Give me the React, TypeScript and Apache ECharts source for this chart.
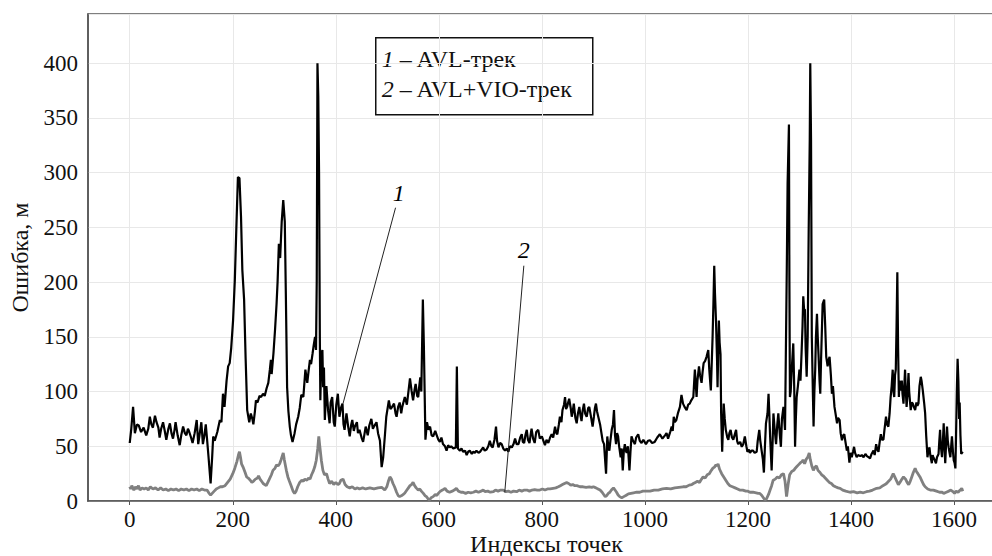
import React, { useEffect, useRef } from "react";
import * as echarts from "echarts";

// Series 1: AVL track error (index, value in metres)
const idx1 = [0,3,6.5,10,14,17.5,22,27,32,36,39,42,45,49,52,55.6,58,61,64.7,68,71,75,78,81,84,87,89,93,97,100,103.6,107,110,113,115,119,122,126,130,133,136,139,142,145,147.6,150,153,157,160,162,165,170,175,178,181,184,188,191,194,197,200.6,204,207,210,213,216,218.6,222,225,228,232,235,238,240,243,245,248,252,255,258.7,262,265.7,269,272,274,275.5,279,282,285,287,289.5,292,295,298,301,303,305.5,308,310.7,313,316,320,323,327,330,333,337,341,344.6,347,349.8,352,355,357,359.7,361.6,363,364.4,366,367.5,369,370,372,374,375.4,377,378.7,381.8,385,388,390,393,396,398,401,404,407,410,413,415,417,420.7,424,427,430,432,435,437,441,443,446,450,453,456,458,462,465,469,472,474,479,482,485.7,489,492,495,498,503,506,508,513,516,518,521,524,527,529,534,538,541,544,547,550,553,555,558,560,562,564,566,569,571,574,577,580,583,586,589,593,596,599,602,605,608,612,615,618,621,624,628,633,635,637,641,644,647,651,654,657,660,664,667,670,673,677,680,683,686,689,692.7,696,699,702,704.5,708,711,713,715.7,719,722,725,728.5,732,735,738,741.7,745,748,751,754.6,758,761,763,765.6,768,770.7,773,776,778,780,783,786,789,793,796,800,803,806,809,812.6,816,819,822,825.6,828,830,833,835,838,840,843,845,847,849,851,853,856,858,860,862,865,867.6,870,872.7,875,877,879,881.7,884,887,890,892,895,898.5,901,903,905,907,909.5,913,916,918,920.7,924.6,927,929,931,933,935.6,938,940,942,944,946,948,950,953,955,957,959,961,963,964.6,967,970,972,974,977,980.6,983,987,990,993.5,997,1002,1006,1009.7,1014,1019,1024,1029,1034,1039,1042,1045,1049,1052,1054,1056,1058,1061,1064,1068,1071,1074,1077,1081,1084,1087,1090,1094,1097,1100.3,1102,1105,1107,1110,1112,1114,1117,1119.8,1123,1125,1128,1131.4,1133,1134.6,1136,1138,1140,1141,1143.6,1145,1146.8,1148,1150,1153,1155,1157,1160,1162,1164,1166.4,1169,1171.6,1174,1177,1179,1181,1185,1188,1191,1194,1197,1199,1202,1204,1207,1210,1213,1217,1219,1222,1224,1226.6,1229,1231,1233,1235,1238,1240,1241.5,1243,1246,1248,1249.5,1252,1254.6,1257,1259,1262,1264,1266,1269,1272,1273.5,1275.4,1277,1279.6,1280.5,1281.5,1283,1285,1288,1290,1291.5,1293,1294.6,1297,1300,1302,1304,1306,1307.4,1309,1310.6,1312,1314,1316,1318,1320,1321,1322.5,1324,1326,1327.4,1329,1330.6,1332,1334,1335.5,1337,1339,1340.4,1342,1345,1348,1350,1352,1354.7,1356,1358.5,1361,1363,1365,1368,1370,1373,1375,1378,1380,1382.5,1385,1387,1390,1392,1394,1397,1399,1401.5,1404,1406,1408,1411,1414,1418,1421,1424.5,1428,1431,1434,1437,1440,1443.7,1446,1448.9,1451,1453.4,1456,1458,1460,1463,1465,1468,1470,1472.6,1475,1477,1479,1481,1482.5,1484,1485.5,1487,1488.5,1490,1491.5,1493,1494,1495.5,1497,1498.7,1500,1502,1503.5,1505,1506.5,1508,1510,1511.7,1513,1516,1518,1520,1522,1524.6,1527,1529,1531,1533,1535.5,1537,1539.4,1542,1544,1546,1548.5,1550,1552.4,1554,1557,1558.5,1560,1562,1565,1567,1570,1571.5,1573,1574.5,1576.7,1578,1580,1581.5,1583,1584.5,1586.4,1588,1589.6,1591,1592.9,1594.5,1596,1598,1599.5,1601,1602.7,1604,1605.5,1607,1608.5,1610,1611,1612.5,1614,1617];
const err1 = [53,66,86,62,70,69,63,67,60,66,77,70,67,78,72,67,58,66,72,64,56,66,71,62,57,65,72,60,51,60,68,62,60,66,64,58,53,62,74,52,62,72,52,60,70,57,40,16,40,59,55,63,74,72,98,86,110,123,126,140,165,202,250,296,295,260,211,184,130,83,72,80,75,70,82,92,90,96,95,98,96,103,108,120,129,116,135,156,180,200,235,222,255,275,255,190,104,82,68,60,54,62,70,77,85,97,95,120,108,118,129,125,135,142,150,138,200,400,370,300,150,92,134,138,104,122,74,105,83,71,90,95,72,68,88,98,77,85,89,70,65,80,68,59,70,74,64,68,72,62,65,58,54,62,68,60,69,75,66,68,72,62,55,31,40,58,77,92,84,85,89,80,77,86,90,80,86,95,88,100,112,101,92,102,107,96,95,105,113,100,184,141,56,72,65,68,60,59,64,60,56,54,58,52,50,46,51,49,50,48,49,123,48,46,48,45,46,42,45,46,43,45,44,46,44,45,47,49,46,47,50,55,50,49,56,68,55,49,53,52,48,46,48,45,50,49,52,57,52,52,58,61,54,53,60,65,56,53,60,66,57,53,63,65,57,59,55,51,56,53,58,61,58,68,62,61,70,77,72,83,88,95,84,86,90,93.5,85,77,82,89,76,71,80,86,78,73,82,89,80,77,85,86,78,68,77,85,89,82,77,70,61,55,52,25,59,50,46,55,65,70,83,60,52,62,59,50,40,48,28,45,52,46,44,50,28,45,59,55,52,58,61,55,53,56,52,55,55.5,53,54,58,61,57,60,62,57,63,68,64,77,72,74,80,86,97,89,86,83,88,89,92,95,120,95,110,123,115,108,118,126,128,132,138,120,101,150,180,215,190,165,130,104,165,145,134,80,45,89,75,65,58,56,62,65,58,56,60,65,55,52,54,49.5,52,59,50,45,47,44,46,46,44,45,55,65,55,46,38,26,50,71,80,98,80,60,28,55,80,65,52,70,80,60,49.5,75,86,65,130,211,290,344,200,95,100,120,144,100,49.5,75,95,105,120,110,134,160,187,175,175,140,113.5,150,250,330,400,330,150,100,68,100,120,150,171,150,134,110,98,130,180,184,160,131.7,123,128,131.7,115,98,105,86,80,71,76,74,62,55.5,60,61,52,46,50,35,44,40,45,49.5,44,40,42,41,42,40,43,41,40,39,43,46,42,52,47,45,55,61,56,56,65,77,70,68,80,95,105,120,100,95,115,120,160,209,140,95,110,101,105,110,98,89,105,120,100,86,100,117,100,83,90,89,86,83,90,87,89,105,113.5,110,101,90,80,60,40,45,49,42,34.5,42,40,38,34.5,40,43,55,65,50,40,50,71,50,34.5,50,68,55,49,45,40,50,59,45,37,35,29.8,60,100,130,110,75,90,60,43,45];

// Series 2: AVL+VIO track error
const idx2 = [0,2,4,6,8,11,14,17,20,24,28,32,36,40,45,50,55,60,65,70,75,80,85,90,95,100,105,110,115,120,125,130,135,140,145,150,154,157,160,164,168,172,176,180,185,190,195,200,204,208,211,213,215,217,220,224,227,230,234,237,240,244,248,250,253,256,259,262,265,268,271,275,278,282,285,288,291,294,296,298,300,302,304,307,310,314,317,320,323,326,330,334,337,340,344,347,350,353,356,359,362,365,367,369,372,375,378,382,385,388,392,396,400,404,407,410,414,418,422,427,432,437,442,446,452,458,466,474,482,489,495,499,502,505,508,511,514,518,521,524,528,531,534,538,541,544,547,550,553,556,560,563,566,570,573,576,579,582,585,589,593,596,599,603,607,612,616,621,626,630,634,638,643,647,652,657,662,667,672,677,682,686,690,695,700,706,710,715,720,725,730,735,740,745,751,756,761,766,771,776,781,786,791,796,801,806,811,816,822,827,832,836,840,844,848,852,856,860,864,868,874,880,886,892,897,900,905,909,913,917,920,923,926,929,932,935,939,942,945,948,951,955,959,963,968,973,978,984,990,996,1002,1010,1018,1026,1034,1042,1050,1058,1066,1074,1080,1086,1091,1094,1098,1102,1106,1110,1113,1117,1121,1125,1129,1132,1135,1138,1140,1142,1145,1149,1153,1157,1161,1165,1170,1175,1180,1184,1190,1196,1200,1204,1210,1216,1220,1223,1227,1230,1233,1236,1240,1243,1246,1249,1253,1257,1261,1265,1269,1272,1275,1278,1281,1285,1289,1292,1294,1298,1302,1305,1307,1310,1313,1316,1319,1321,1324,1327,1330,1333,1336,1340,1343,1346,1350,1354,1358,1362,1366,1370,1375,1379,1384,1390,1398,1405,1412,1418,1424,1430,1436,1442,1450,1456,1462,1466,1469,1473,1477,1480,1482,1485,1489,1492,1495,1499,1502,1506,1509,1512,1515,1518,1521,1524.6,1527,1530,1534,1538,1541,1544,1549,1554,1560,1566,1572,1577,1580,1585,1590,1593,1597,1601,1604,1608,1612,1615,1617];
const err2 = [13,11,14,12,10,13,11,14,10,12,11,12,10,13,11,12,10,12,10,11,9.5,11,10,11,9.5,11,10,11,9.5,11,10,11,9.5,11,10,10,7,5.5,7,9,11,12,13,13,14,17,20,25,30,36,42,45,40,34,31,26,22,21,19,17,18,20,21,23,20,18,16,15,14,17,20,24,28,30,33,32,34,38,41,44,38,33,28,22,18,13,9,7,9,13,17,19,18,20,19,21,20,24,27,31,37,48,59,50,37,28,24,25,20,16,18,15,17,15,16,19,20,15,13,12,13,11,12,11,12,11,12,11,12,12.5,10,13,18,22,20,16,13,8,5,4,5,6,7.3,10,12,14,15,17,14,12,10,11,9,7,5,4,2,1,3,4,6,5,7,9,10,11.6,9,8,9,10,11.5,9,8,8,7,8,7.5,8,9,8,9,10,8.5,9,8,8.5,10,9,10,10,8.5,9,8,9,8.5,10,9,10,10,9,10,10.5,10,10,11,10,11,11,11.6,12,13,14,15,16,16.8,16,14.5,15,14,14,13,13,12.5,13,12.5,13,12,11,10,8,6,4,5,7,8,10,12,10,8,5.5,4,3,4,5,6.5,7,7.5,8,8,9,9,9,10,10,11,11.6,11,12,12.5,13,13,14.5,15,16,17,18,17,20,22,21,24,25,28,30,31,33,32,34,29,25,22,19,16,14,13,12,11,10,10,9,9,8,8,7.5,7,7,5,3,1,2,6,10,14,19,20,22,21,24,25,18,4,15,24,27,28,30,31,33,35,36,37.6,34,38,40,43.8,38,32,28,31,32,28,26,24,23,21,19,17,16,14,13,12,11.6,10,9,8,8.5,7.5,8,7.5,8.5,9,10,11.6,12,14,15,16,18,20,23,25,22,18,15,17,20,22,20,17,15,18,22,26,29.8,27,25,22,18,15,13,11,10,10,9,8,8,7,8,9,10,9,7,9,8,10,11.6,9];

// Axis ticks
const xTicks = [0, 200, 400, 600, 800, 1000, 1200, 1400, 1600];
const xMin = -81;
const xMax = 1699;
const yMin = 0;
const yMax = 445;
const yInterval = 50;

// Legend / annotation texts
const legendLines = ["{i|1} – AVL-трек", "{i|2} – AVL+VIO-трек"];
const annot1Line = [[516, 268], [414, 89]];
const annot1Label = [522, 281];
const annot2Line = [[765, 215], [728, 8]];
const annot2Label = [765, 229];

const FONT = "'Liberation Serif', 'DejaVu Serif', 'Times New Roman', serif";

export default function App() {
  const ref = useRef<HTMLDivElement>(null);
  useEffect(() => {
    if (!ref.current) return;
    const chart = echarts.init(ref.current, undefined, { renderer: "svg" });
    const data1 = idx1.map((x, k) => [x, err1[k]]);
    const data2 = idx2.map((x, k) => [x, err2[k]]);
    const annotLabelStyle = {
      show: true,
      position: "inside",
      fontFamily: FONT,
      fontSize: 24,
      fontStyle: "italic",
      color: "#000",
    };
    chart.setOption({
      animation: false,
      backgroundColor: "#fff",
      textStyle: { fontFamily: FONT },
      grid: {
        left: 88,
        top: 14,
        right: -13,
        bottom: 55,
        containLabel: false,
        outerBoundsMode: "none",
        show: true,
        borderColor: "#555",
        borderWidth: 1.5,
        backgroundColor: "transparent",
      },
      xAxis: {
        type: "value",
        min: xMin,
        max: xMax,
        name: "Индексы точек",
        nameLocation: "middle",
        nameGap: 31,
        nameMoveOverlap: false,
        nameTextStyle: { fontFamily: FONT, fontSize: 24, color: "#111" },
        axisLine: { show: true, onZero: false, lineStyle: { color: "#555", width: 1.5 } },
        axisTick: {
          show: true,
          customValues: xTicks,
          length: 4,
          lineStyle: { color: "#555" },
        },
        axisLabel: {
          customValues: xTicks,
          formatter: (v: number) => String(v),
          fontFamily: FONT,
          fontSize: 23,
          color: "#111",
          margin: 7,
        },
        splitLine: { show: true, lineStyle: { color: "#e8e8e8", width: 1 } },
      },
      yAxis: {
        type: "value",
        min: yMin,
        max: yMax,
        interval: yInterval,
        name: "Ошибка, м",
        nameLocation: "middle",
        nameGap: 56,
        nameMoveOverlap: false,
        nameTextStyle: { fontFamily: FONT, fontSize: 24, color: "#111" },
        axisLine: { show: true, onZero: false, lineStyle: { color: "#555", width: 1.5 } },
        axisTick: { show: false },
        axisLabel: {
          formatter: (v: number) => String(v),
          fontFamily: FONT,
          fontSize: 23,
          color: "#111",
          margin: 10,
          showMaxLabel: false,
        },
        splitLine: { show: true, lineStyle: { color: "#e8e8e8", width: 1 } },
      },
      series: [
        {
          type: "line",
          data: data2,
          showSymbol: false,
          symbol: "none",
          lineStyle: { color: "#808080", width: 2.8 },
          z: 3,
          markLine: {
            silent: true,
            symbol: "none",
            label: { show: false },
            lineStyle: { color: "#222", width: 1, type: "solid" },
            data: [[{ coord: annot2Line[0] }, { coord: annot2Line[1] }]],
          },
          markPoint: {
            silent: true,
            symbol: "circle",
            symbolSize: 0,
            label: { ...annotLabelStyle, formatter: "2" },
            data: [{ coord: annot2Label }],
          },
        },
        {
          type: "line",
          data: data1,
          showSymbol: false,
          symbol: "none",
          lineStyle: { color: "#000", width: 2.2 },
          z: 4,
          markLine: {
            silent: true,
            symbol: "none",
            label: { show: false },
            lineStyle: { color: "#222", width: 1, type: "solid" },
            data: [[{ coord: annot1Line[0] }, { coord: annot1Line[1] }]],
          },
          markPoint: {
            silent: true,
            symbol: "circle",
            symbolSize: 0,
            label: { ...annotLabelStyle, formatter: "1" },
            data: [{ coord: annot1Label }],
          },
        },
      ],
      graphic: [
        {
          type: "group",
          left: 375,
          top: 37,
          z: 100,
          children: [
            {
              type: "rect",
              shape: { x: 0, y: 0, width: 217, height: 77 },
              style: { fill: "#fff", stroke: "#111", lineWidth: 1.5 },
            },
            ...legendLines.map((t, k) => ({
              type: "text",
              x: 6,
              y: 21 + k * 30,
              style: {
                text: t,
                fontFamily: FONT,
                fontSize: 24,
                fill: "#111",
                verticalAlign: "middle",
                rich: {
                  i: { fontFamily: FONT, fontSize: 24, fontStyle: "italic", fill: "#111" },
                },
              },
            })),
          ],
        },
      ],
    });
    return () => chart.dispose();
  }, []);
  return (
    <div
      ref={ref}
      style={{ position: "fixed", left: 0, top: 0, width: 992, height: 556, background: "#fff" }}
    />
  );
}
